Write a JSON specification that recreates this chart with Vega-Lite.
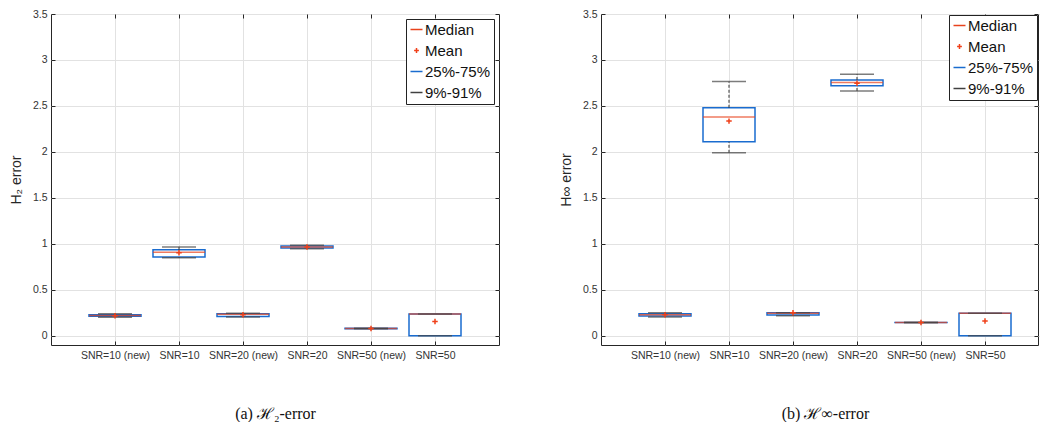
{
  "$schema": "https://vega.github.io/schema/vega-lite/v6.json",
  "padding": {"left": 8, "top": 8, "right": 0, "bottom": 0},
  "spacing": 102,
  "bounds": "flush",
  "datasets": {
    "boxes": [
      {"panel": "a", "group": "SNR=10 (new)", "lo": 0.203, "q1": 0.212, "med": 0.22, "q3": 0.23, "hi": 0.24, "mean": 0.218},
      {"panel": "a", "group": "SNR=10", "lo": 0.848, "q1": 0.857, "med": 0.91, "q3": 0.935, "hi": 0.967, "mean": 0.903},
      {"panel": "a", "group": "SNR=20 (new)", "lo": 0.205, "q1": 0.21, "med": 0.235, "q3": 0.24, "hi": 0.245, "mean": 0.23},
      {"panel": "a", "group": "SNR=20", "lo": 0.948, "q1": 0.955, "med": 0.967, "q3": 0.978, "hi": 0.985, "mean": 0.965},
      {"panel": "a", "group": "SNR=50 (new)", "lo": 0.077, "q1": 0.078, "med": 0.08, "q3": 0.081, "hi": 0.082, "mean": 0.08},
      {"panel": "a", "group": "SNR=50", "lo": 0, "q1": 0, "med": 0.237, "q3": 0.237, "hi": 0.237, "mean": 0.155},
      {"panel": "b", "group": "SNR=10 (new)", "lo": 0.205, "q1": 0.215, "med": 0.228, "q3": 0.24, "hi": 0.252, "mean": 0.228},
      {"panel": "b", "group": "SNR=10", "lo": 1.99, "q1": 2.11, "med": 2.38, "q3": 2.48, "hi": 2.765, "mean": 2.335},
      {"panel": "b", "group": "SNR=20 (new)", "lo": 0.218, "q1": 0.225, "med": 0.246, "q3": 0.25, "hi": 0.252, "mean": 0.25},
      {"panel": "b", "group": "SNR=20", "lo": 2.663, "q1": 2.72, "med": 2.755, "q3": 2.783, "hi": 2.845, "mean": 2.748},
      {"panel": "b", "group": "SNR=50 (new)", "lo": 0.143, "q1": 0.144, "med": 0.145, "q3": 0.146, "hi": 0.147, "mean": 0.145},
      {"panel": "b", "group": "SNR=50", "lo": 0, "q1": 0, "med": 0.246, "q3": 0.246, "hi": 0.246, "mean": 0.16}
    ],
    "legend": [
      {"key": "Median"}, {"key": "Mean"}, {"key": "25%-75%"}, {"key": "9%-91%"}
    ]
  },
  "resolve": {"scale": {"color": "independent", "shape": "independent"}},
  "config": {
    "font": "Liberation Sans",
    "view": {"stroke": "#262626", "strokeWidth": 1},
    "axis": {
      "domain": false,
      "gridColor": "#e2e2e2",
      "gridWidth": 1,
      "labelFont": "Liberation Sans",
      "labelFontSize": 10.5,
      "labelColor": "#333333",
      "tickColor": "#262626",
      "tickSize": -4,
      "tickWidth": 1,
      "titleFont": "Liberation Sans",
      "titleFontWeight": "normal",
      "titleColor": "#262626"
    }
  },
  "hconcat": [
    {
      "width": 448,
      "height": 331,
      "resolve": {"axis": {"x": "independent", "y": "independent"}},
      "layer": [
        {
          "data": {"name": "boxes"},
          "transform": [{"filter": "datum.panel == 'a'"}],
          "mark": {"type": "bar", "size": 52, "fill": "white", "stroke": "#1a6ccf", "strokeWidth": 1.5},
          "encoding": {
            "x": {"field": "group", "type": "nominal", "sort": null, "scale": {"type": "point", "padding": 1},
              "axis": {"orient": "bottom", "title": "(a) ℋ₂-error", "titleFont": "Liberation Serif", "titleFontSize": 16, "titleColor": "#111", "titlePadding": 45, "labelAngle": 0, "labelPadding": 9, "labelOverlap": false, "grid": true}},
            "y": {"field": "q1", "type": "quantitative", "scale": {"domain": [-0.1, 3.5], "nice": false, "zero": false},
              "axis": {"orient": "left", "title": "H₂ error", "titleFontSize": 14, "titlePadding": 9, "labelPadding": 8, "format": "~g", "values": [0, 0.5, 1, 1.5, 2, 2.5, 3, 3.5], "grid": true}},
            "y2": {"field": "q3"}
          }
        },
        {
          "data": {"name": "boxes"},
          "transform": [{"filter": "datum.panel == 'a'"}],
          "mark": {"type": "tick", "size": 52, "thickness": 1.5, "color": "#e8431c"},
          "encoding": {
            "x": {"field": "group", "type": "nominal", "sort": null, "axis": {"orient": "top", "labels": false, "title": null, "grid": false}},
            "y": {"field": "med", "type": "quantitative", "axis": {"orient": "right", "labels": false, "title": null, "grid": false, "values": [0, 0.5, 1, 1.5, 2, 2.5, 3, 3.5]}}
          }
        },
        {
          "data": {"name": "boxes"},
          "transform": [{"filter": "datum.panel == 'a'"}],
          "mark": {"type": "rule", "color": "#333333", "strokeWidth": 1, "strokeDash": [3, 2]},
          "encoding": {
            "x": {"field": "group", "type": "nominal", "sort": null, "axis": null},
            "y": {"field": "q3", "type": "quantitative", "axis": null},
            "y2": {"field": "hi"}
          }
        },
        {
          "data": {"name": "boxes"},
          "transform": [{"filter": "datum.panel == 'a'"}],
          "mark": {"type": "rule", "color": "#333333", "strokeWidth": 1, "strokeDash": [3, 2]},
          "encoding": {
            "x": {"field": "group", "type": "nominal", "sort": null, "axis": null},
            "y": {"field": "lo", "type": "quantitative", "axis": null},
            "y2": {"field": "q1"}
          }
        },
        {
          "data": {"name": "boxes"},
          "transform": [{"filter": "datum.panel == 'a'"}],
          "mark": {"type": "tick", "size": 34, "thickness": 1.5, "color": "#444444"},
          "encoding": {
            "x": {"field": "group", "type": "nominal", "sort": null, "axis": null},
            "y": {"field": "hi", "type": "quantitative", "axis": null}
          }
        },
        {
          "data": {"name": "boxes"},
          "transform": [{"filter": "datum.panel == 'a'"}],
          "mark": {"type": "tick", "size": 34, "thickness": 1.5, "color": "#444444"},
          "encoding": {
            "x": {"field": "group", "type": "nominal", "sort": null, "axis": null},
            "y": {"field": "lo", "type": "quantitative", "axis": null}
          }
        },
        {
          "data": {"name": "boxes"},
          "transform": [{"filter": "datum.panel == 'a'"}],
          "mark": {"type": "point", "shape": "M-1,0H1M0,-1V1", "filled": false, "size": 30, "strokeWidth": 1.5, "color": "#f0401a", "opacity": 1},
          "encoding": {
            "x": {"field": "group", "type": "nominal", "sort": null, "axis": null},
            "y": {"field": "mean", "type": "quantitative", "axis": null}
          }
        },
        {
          "data": {"name": "legend"},
          "mark": {"type": "point", "filled": false, "opacity": 0, "strokeWidth": 1.5},
          "encoding": {
            "color": {"field": "key", "type": "nominal", "sort": null,
              "scale": {"domain": ["Median", "Mean", "25%-75%", "9%-91%"], "range": ["#e8431c", "#f0401a", "#1a6ccf", "#404040"]},
              "legend": {"orient": "top-right", "offset": 5, "title": null, "strokeColor": "#222222", "fillColor": "white", "padding": 3, "labelFontSize": 15, "labelColor": "#111", "labelFont": "Liberation Sans", "symbolSize": 144, "symbolStrokeWidth": 1.5, "rowPadding": 5, "labelOffset": 1, "symbolOpacity": 1, "encode": {"symbols": {"update": {"opacity": {"value": 1}}}}}},
            "shape": {"field": "key", "type": "nominal", "sort": null,
              "scale": {"domain": ["Median", "Mean", "25%-75%", "9%-91%"], "range": ["M-1,0H1", "M-0.4,0H0.4M0,-0.4V0.4", "M-1,0H1", "M-1,0H1"]},
              "legend": {"orient": "top-right", "offset": 5, "title": null, "strokeColor": "#222222", "fillColor": "white", "padding": 3, "labelFontSize": 15, "labelColor": "#111", "labelFont": "Liberation Sans", "symbolSize": 144, "symbolStrokeWidth": 1.5, "rowPadding": 5, "labelOffset": 1, "symbolOpacity": 1, "encode": {"symbols": {"update": {"opacity": {"value": 1}}}}}}
          }
        }
      ]
    },
    {
      "width": 437,
      "height": 331,
      "resolve": {"axis": {"x": "independent", "y": "independent"}},
      "layer": [
        {
          "data": {"name": "boxes"},
          "transform": [{"filter": "datum.panel == 'b'"}],
          "mark": {"type": "bar", "size": 52, "fill": "white", "stroke": "#1a6ccf", "strokeWidth": 1.5},
          "encoding": {
            "x": {"field": "group", "type": "nominal", "sort": null, "scale": {"type": "point", "padding": 1, "range": [0, 448]},
              "axis": {"orient": "bottom", "title": "(b) ℋ∞-error", "titleFont": "Liberation Serif", "titleFontSize": 16, "titleColor": "#111", "titlePadding": 45, "titleX": 224, "labelAngle": 0, "labelPadding": 9, "labelOverlap": false, "grid": true}},
            "y": {"field": "q1", "type": "quantitative", "scale": {"domain": [-0.1, 3.5], "nice": false, "zero": false},
              "axis": {"orient": "left", "title": "H∞ error", "titleFontSize": 14, "titlePadding": 9, "labelPadding": 8, "format": "~g", "values": [0, 0.5, 1, 1.5, 2, 2.5, 3, 3.5], "grid": true}},
            "y2": {"field": "q3"}
          }
        },
        {
          "data": {"name": "boxes"},
          "transform": [{"filter": "datum.panel == 'b'"}],
          "mark": {"type": "tick", "size": 52, "thickness": 1.5, "color": "#e8431c"},
          "encoding": {
            "x": {"field": "group", "type": "nominal", "sort": null, "axis": {"orient": "top", "labels": false, "title": null, "grid": false}},
            "y": {"field": "med", "type": "quantitative", "axis": {"orient": "right", "labels": false, "title": null, "grid": false, "values": [0, 0.5, 1, 1.5, 2, 2.5, 3, 3.5]}}
          }
        },
        {
          "data": {"name": "boxes"},
          "transform": [{"filter": "datum.panel == 'b'"}],
          "mark": {"type": "rule", "color": "#333333", "strokeWidth": 1, "strokeDash": [3, 2]},
          "encoding": {
            "x": {"field": "group", "type": "nominal", "sort": null, "axis": null},
            "y": {"field": "q3", "type": "quantitative", "axis": null},
            "y2": {"field": "hi"}
          }
        },
        {
          "data": {"name": "boxes"},
          "transform": [{"filter": "datum.panel == 'b'"}],
          "mark": {"type": "rule", "color": "#333333", "strokeWidth": 1, "strokeDash": [3, 2]},
          "encoding": {
            "x": {"field": "group", "type": "nominal", "sort": null, "axis": null},
            "y": {"field": "lo", "type": "quantitative", "axis": null},
            "y2": {"field": "q1"}
          }
        },
        {
          "data": {"name": "boxes"},
          "transform": [{"filter": "datum.panel == 'b'"}],
          "mark": {"type": "tick", "size": 34, "thickness": 1.5, "color": "#444444"},
          "encoding": {
            "x": {"field": "group", "type": "nominal", "sort": null, "axis": null},
            "y": {"field": "hi", "type": "quantitative", "axis": null}
          }
        },
        {
          "data": {"name": "boxes"},
          "transform": [{"filter": "datum.panel == 'b'"}],
          "mark": {"type": "tick", "size": 34, "thickness": 1.5, "color": "#444444"},
          "encoding": {
            "x": {"field": "group", "type": "nominal", "sort": null, "axis": null},
            "y": {"field": "lo", "type": "quantitative", "axis": null}
          }
        },
        {
          "data": {"name": "boxes"},
          "transform": [{"filter": "datum.panel == 'b'"}],
          "mark": {"type": "point", "shape": "M-1,0H1M0,-1V1", "filled": false, "size": 30, "strokeWidth": 1.5, "color": "#f0401a", "opacity": 1},
          "encoding": {
            "x": {"field": "group", "type": "nominal", "sort": null, "axis": null},
            "y": {"field": "mean", "type": "quantitative", "axis": null}
          }
        },
        {
          "data": {"name": "legend"},
          "mark": {"type": "point", "filled": false, "opacity": 0, "strokeWidth": 1.5},
          "encoding": {
            "color": {"field": "key", "type": "nominal", "sort": null,
              "scale": {"domain": ["Median", "Mean", "25%-75%", "9%-91%"], "range": ["#e8431c", "#f0401a", "#1a6ccf", "#404040"]},
              "legend": {"orient": "top-right", "offset": 1, "title": null, "strokeColor": "#222222", "fillColor": "white", "padding": 3, "labelFontSize": 15, "labelColor": "#111", "labelFont": "Liberation Sans", "symbolSize": 144, "symbolStrokeWidth": 1.5, "rowPadding": 5, "labelOffset": 1, "symbolOpacity": 1, "encode": {"symbols": {"update": {"opacity": {"value": 1}}}}}},
            "shape": {"field": "key", "type": "nominal", "sort": null,
              "scale": {"domain": ["Median", "Mean", "25%-75%", "9%-91%"], "range": ["M-1,0H1", "M-0.4,0H0.4M0,-0.4V0.4", "M-1,0H1", "M-1,0H1"]},
              "legend": {"orient": "top-right", "offset": 1, "title": null, "strokeColor": "#222222", "fillColor": "white", "padding": 3, "labelFontSize": 15, "labelColor": "#111", "labelFont": "Liberation Sans", "symbolSize": 144, "symbolStrokeWidth": 1.5, "rowPadding": 5, "labelOffset": 1, "symbolOpacity": 1, "encode": {"symbols": {"update": {"opacity": {"value": 1}}}}}}
          }
        }
      ]
    }
  ]
}
